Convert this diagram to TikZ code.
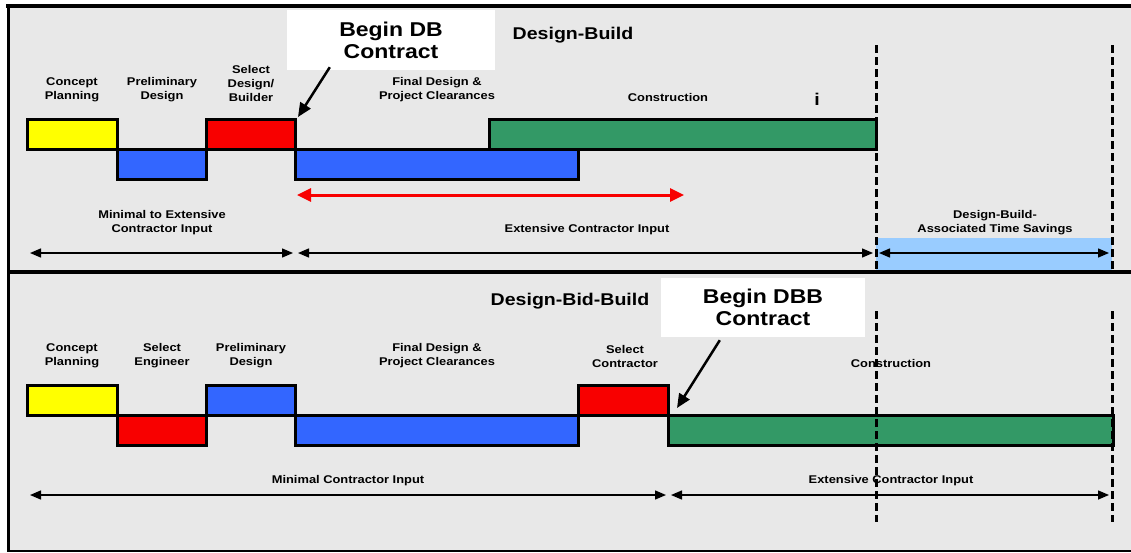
\documentclass[tikz,border=0pt]{standalone}
\usepackage{fontspec}
\setmainfont{Liberation Sans}[FakeStretch=1.15]
\usetikzlibrary{arrows.meta}

\definecolor{panelgray}{HTML}{E8E8E8}
\definecolor{phaseyellow}{HTML}{FFFF00}
\definecolor{phaseblue}{HTML}{3366FF}
\definecolor{phasered}{HTML}{F80000}
\definecolor{phasegreen}{HTML}{339966}
\definecolor{savingsblue}{HTML}{99CCFF}

\tikzset{
  phasebox/.style={draw=black, line width=3pt, inner sep=0pt},
  lbl/.style={font=\fontsize{11.2}{14}\selectfont\bfseries, align=center, inner sep=0pt},
  ttl/.style={font=\fontsize{17}{20}\selectfont\bfseries, inner sep=0pt},
  beginbox/.style={fill=white, inner sep=0pt, align=center,
    font=\fontsize{20}{22}\selectfont\bfseries},
  inputspan/.style={line width=1.4pt,
    {Triangle[length=11pt,width=9pt]}-{Triangle[length=11pt,width=9pt]}},
  redspan/.style={phasered, line width=3pt,
    {Triangle[length=14pt,width=13pt]}-{Triangle[length=14pt,width=13pt]}},
  pointer/.style={line width=2.5pt, -{Triangle[length=14pt,width=12pt]}},
  milestone/.style={line width=3pt, dash pattern=on 8pt off 4pt},
}

% bar from (x1,y1) to (x2,y2), y counted downwards
\newcommand{\phasebar}[6]{%
  \node[phasebox, fill=#6, minimum width={(#4-#2)*1pt}, minimum height={(#5-#3)*1pt}]
    (#1) at ({(#2+#4)/2},{(#3+#5)/2}) {};}

\begin{document}
\begin{tikzpicture}[x=1pt,y=-1pt]
\useasboundingbox (0,0) rectangle (1131,552);
\fill[white] (0,0) rectangle (1131,552);
\fill[panelgray] (8,6) rectangle (1131,551);

% frame
\draw[line width=4pt] (6,6) -- (1131,6);
\draw[line width=3pt] (8,4) -- (8,552);
\draw[line width=4pt] (8,272) -- (1131,272);
\draw[line width=2pt] (8,550.5) -- (1131,550.5);

%% Design-Build
\fill[savingsblue] (876,238) rectangle (1112,270);

\phasebar{dbcp}{27}{119}{117}{149}{phaseyellow}
\phasebar{dbpd}{117}{149}{206}{179}{phaseblue}
\phasebar{dbsd}{206}{119}{295}{149}{phasered}
\phasebar{dbfd}{295}{149}{578}{179}{phaseblue}
\phasebar{dbco}{489}{119}{876}{149}{phasegreen}

\coordinate (dbtop1) at (876,45);  \coordinate (dbbot1) at (876,272);
\coordinate (dbtop2) at (1112,45); \coordinate (dbbot2) at (1112,272);
\draw[milestone] (dbtop1) -- (dbbot1);
\draw[milestone] (dbtop2) -- (dbbot2);

\node[lbl] (dbcpl) at (72,90)  {Concept\\Planning};
\node[lbl] (dbpdl) at (162,90) {Preliminary\\Design};
\node[lbl] (dbsdl) at (251,83) {Select\\Design/\\Builder};
\node[lbl] (dbfdl) at (437,90) {Final Design \&\\Project Clearances};
\node[lbl] (dbcol) at (668,97) {Construction};
\node[font=\fontsize{17}{17}\selectfont\bfseries, inner sep=0pt] (dbmark) at (817,99) {i};
\node[ttl] (dbttl) at (573,35) {Design-Build};

\node[beginbox, minimum width=208pt, minimum height=60pt] (dbbegin) at (391,40) {Begin DB\\Contract};
\coordinate (dbtip) at (298,117);
\draw[pointer] (dbbegin.south west) ++(43pt,3pt) coordinate (dbtail) (dbtail) -- (dbtip);

\coordinate (red1) at (297,195); \coordinate (red2) at (684,195);
\draw[redspan] (red1) -- (red2);

\node[lbl] (dbmin) at (162,223) {Minimal to Extensive\\Contractor Input};
\node[lbl] (dbext) at (587,230) {Extensive Contractor Input};
\node[lbl] (dbsave) at (995,223) {Design-Build-\\Associated Time Savings};

\coordinate (dba0) at (30,253);  \coordinate (dba1) at (293,253);
\coordinate (dba2) at (298,253); \coordinate (dba3) at (873,253);
\coordinate (dba4) at (879,253); \coordinate (dba5) at (1109,253);
\draw[inputspan] (dba0) -- (dba1);
\draw[inputspan] (dba2) -- (dba3);
\draw[inputspan] (dba4) -- (dba5);

%% Design-Bid-Build
\phasebar{dbbcp}{27}{385}{117}{415}{phaseyellow}
\phasebar{dbbse}{117}{415}{206}{445}{phasered}
\phasebar{dbbpd}{206}{385}{295}{415}{phaseblue}
\phasebar{dbbfd}{295}{415}{578}{445}{phaseblue}
\phasebar{dbbsc}{578}{385}{668}{415}{phasered}
\phasebar{dbbco}{668}{415}{1113}{445}{phasegreen}

\coordinate (dbbtop1) at (876,311);  \coordinate (dbbbot1) at (876,522);
\coordinate (dbbtop2) at (1112,311); \coordinate (dbbbot2) at (1112,522);
\draw[milestone] (dbbtop1) -- (dbbbot1);
\draw[milestone] (dbbtop2) -- (dbbbot2);

\node[lbl] (dbbcpl) at (72,356)  {Concept\\Planning};
\node[lbl] (dbbsel) at (162,356) {Select\\Engineer};
\node[lbl] (dbbpdl) at (251,356) {Preliminary\\Design};
\node[lbl] (dbbfdl) at (437,356) {Final Design \&\\Project Clearances};
\node[lbl] (dbbscl) at (625,356) {Select\\Contractor};
\node[lbl] (dbbcol) at (891,363) {Construction};
\node[ttl] (dbbttl) at (570,301) {Design-Bid-Build};

\node[beginbox, minimum width=204pt, minimum height=59pt] (dbbbegin) at (763,307.5) {Begin DBB\\Contract};
\coordinate (dbbtip) at (677,408);
\draw[pointer] (dbbbegin.south west) ++(59pt,-3pt) coordinate (dbbtail) (dbbtail) -- (dbbtip);

\node[lbl] (dbbmin) at (348,481) {Minimal Contractor Input};
\node[lbl] (dbbext) at (891,481) {Extensive Contractor Input};

\coordinate (dbba0) at (30,495);  \coordinate (dbba1) at (666,495);
\coordinate (dbba2) at (671,495); \coordinate (dbba3) at (1109,495);
\draw[inputspan] (dbba0) -- (dbba1);
\draw[inputspan] (dbba2) -- (dbba3);
\end{tikzpicture}
\end{document}
